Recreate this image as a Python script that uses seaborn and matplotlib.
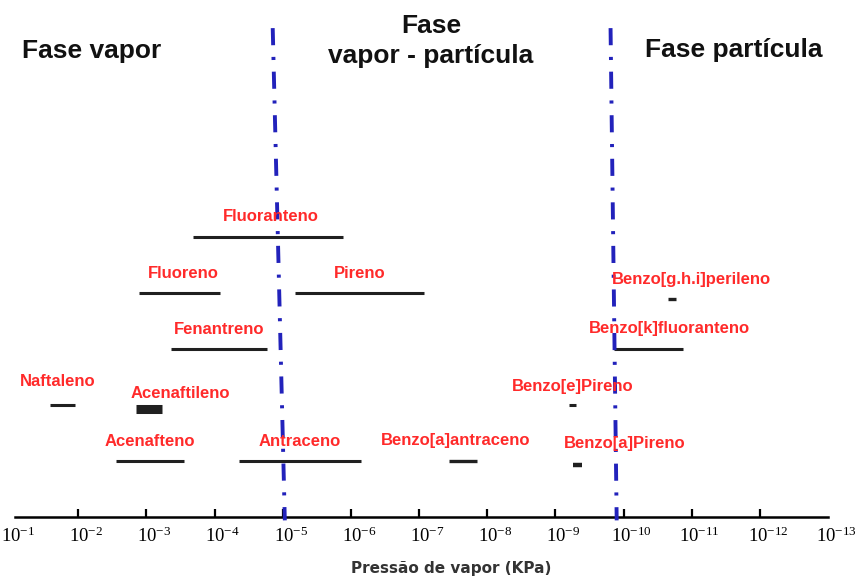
import numpy as np
import pandas as pd
import matplotlib
matplotlib.use("Agg")
import matplotlib.pyplot as plt
import matplotlib.transforms as mtransforms
import seaborn as sns

# Vapour-pressure ranges (kPa) of the PAHs
compounds = ["Fluoranteno", "Fluoreno", "Pireno", "Fenantreno", "Naftaleno",
             "Acenaftileno", "Acenafteno", "Antraceno", "Benzo[a]antraceno",
             "Benzo[g.h.i]perileno", "Benzo[k]fluoranteno", "Benzo[e]Pireno",
             "Benzo[a]Pireno"]
p_high = [2.1e-4, 1.3e-3, 6.6e-6, 4.4e-4, 2.6e-2, 1.4e-3, 2.8e-3, 4.4e-5,
          3.6e-8, 2.2e-11, 1.4e-10, 6.3e-10, 5.5e-10]
p_low = [1.3e-6, 8.3e-5, 8.5e-8, 1.7e-5, 1.1e-2, 5.9e-4, 2.8e-4, 7.1e-7,
         1.4e-8, 1.7e-11, 1.35e-11, 4.9e-10, 4.1e-10]
row = [5, 4, 4, 3, 2, 1.92, 1, 1, 1, 3.9, 3, 2, 0.93]
bar_width = [2.2, 2.2, 2.2, 2.2, 2.2, 6.5, 2.2, 2.2, 2.4, 2.4, 2.2, 2.2, 3.2]

# Phase boundaries (top and bottom of each dash-dot line)
bound_left_p = [1.4e-5, 9.3e-6]
bound_right_p = [1.55e-10, 1.26e-10]
bound_rows = [8.73, -0.06]

tick_exp = list(range(1, 14))

# Label nudges in pixels (dx, dy above the bar)
label_nudge = {"Acenaftileno": (31, 16), "Naftaleno": (-5, 23),
               "Benzo[g.h.i]perileno": (19, 19), "Benzo[k]fluoranteno": (21, 20),
               "Benzo[a]Pireno": (47, 21), "Benzo[a]antraceno": (-8, 20),
               "Fluoranteno": (3, 21), "Fluoreno": (4, 19)}

sns.set_theme(style="white")
plt.rcParams["font.family"] = ["Liberation Sans", "DejaVu Sans"]
plt.rcParams["lines.solid_capstyle"] = "butt"
plt.rcParams["lines.dash_capstyle"] = "butt"

W, H, DPI = 861, 576, 100
fig = plt.figure(figsize=(W / DPI, H / DPI), dpi=DPI)
bottom_px = 59
ax = fig.add_axes([0, bottom_px / H, 1, (H - bottom_px) / H])
ax.set_xscale("log")

px_per_dec = 68.17
e_left = 1 - 10 / px_per_dec
e_right = 1 + (W - 10) / px_per_dec
ax.set_xlim(10 ** -e_left, 10 ** -e_right)
ax.set_ylim(0, (H - bottom_px) / 56)

# Segments for each compound
recs = []
for name, hi, lo, r, w in zip(compounds, p_high, p_low, row, bar_width):
    recs.append({"name": name, "p": hi, "level": r, "w": w})
    recs.append({"name": name, "p": lo, "level": r, "w": w})
df = pd.DataFrame(recs)
sizes = {w: w for w in sorted(set(bar_width))}
sns.lineplot(data=df, x="p", y="level", units="name", estimator=None,
             size="w", sizes=sizes, color="#202020", legend=False,
             sort=False, ax=ax)

# Phase boundary lines
blue = "#2222bb"
for bp in (bound_left_p, bound_right_p):
    ax.plot(bp, bound_rows, color=blue, lw=2.8,
            linestyle=(0, (4.4, 3.0, 0.8, 3.0)), clip_on=False, zorder=4)

# Compound labels
for name, hi, lo, r in zip(compounds, p_high, p_low, row):
    mid = np.sqrt(hi * lo)
    dx, dy = label_nudge.get(name, (0, 19))
    ax.annotate(name, (mid, r), xytext=(dx * 0.72, dy * 0.72),
                textcoords="offset points", ha="center", va="center",
                color="#ff2a2a", fontsize=12, fontweight="bold", zorder=5)

# Axis styling
for s in ("top", "right", "left"):
    ax.spines[s].set_visible(False)
ax.spines["bottom"].set_color("black")
ax.spines["bottom"].set_linewidth(1.8)
ax.spines["bottom"].set_bounds(10 ** -1.07, 10 ** -13)
ax.set_yticks([])
ax.set_xticks([10.0 ** -e for e in tick_exp])
ax.set_xticklabels([r"$\mathregular{10^{-%d}}$" % e for e in tick_exp],
                   fontsize=13.5, family="Liberation Serif", color="#202020")
ax.xaxis.set_minor_locator(matplotlib.ticker.NullLocator())
ax.tick_params(axis="x", direction="in", length=6, width=1.6, pad=7,
               colors="black", bottom=True)
ticks = ax.xaxis.get_major_ticks()
for t in (ticks[0], ticks[-1]):
    t.tick1line.set_visible(False)
shift = mtransforms.ScaledTranslation(8 / DPI, 0, fig.dpi_scale_trans)
for lab in ax.get_xticklabels():
    lab.set_transform(lab.get_transform() + shift)
ax.set_xlabel("")
ax.set_ylabel("")

# Axis title and phase headings
fig.text(451 / W, 1 - 573 / H, "Pressão de vapor (KPa)", ha="center",
         va="baseline", fontsize=11, fontweight="bold", color="#333333",
         family="DejaVu Sans")
head = dict(fontsize=19, fontweight="bold", color="#111111", va="baseline")
fig.text(92 / W, 1 - 58 / H, "Fase vapor", ha="center", **head)
fig.text(431 / W, 1 - 33 / H, "Fase", ha="center", **head)
fig.text(431 / W, 1 - 63 / H, "vapor - partícula", ha="center", **head)
fig.text(734 / W, 1 - 57 / H, "Fase partícula", ha="center", **head)

fig.savefig("out.png", dpi=DPI)
